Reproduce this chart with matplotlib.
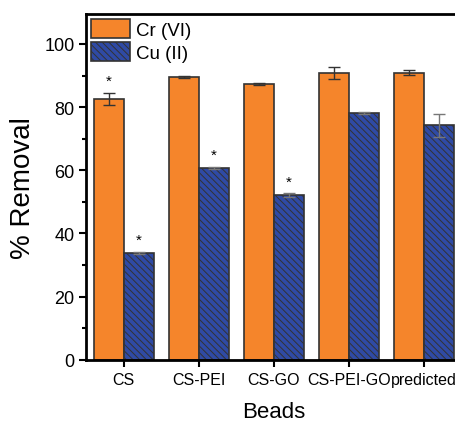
import numpy as np
import matplotlib.pyplot as plt

beads = ['CS', 'CS-PEI', 'CS-GO', 'CS-PEI-GO', 'predicted']
cr_vals = [82.7, 89.4, 87.3, 90.8, 90.9]
cr_err = [1.9, 0.3, 0.3, 1.9, 0.8]
cu_vals = [33.8, 60.8, 52.2, 78.1, 74.2]
cu_err = [0.4, 0.3, 0.6, 0.3, 3.7]
cr_star = [True, False, False, False, False]
cu_star = [True, True, True, False, False]

plt.rcParams['font.family'] = ['Liberation Sans', 'DejaVu Sans']
plt.rcParams['hatch.color'] = '#1c2660'
plt.rcParams['hatch.linewidth'] = 0.7

fig = plt.figure(figsize=(4.56, 4.27), dpi=100)
ax = fig.add_axes([0.189, 0.155, 0.822, 0.81])

x = np.arange(len(beads))
w = 0.4
ax.bar(x - w / 2, cr_vals, w, color='#f5852b', edgecolor='#333333', linewidth=1.2,
       yerr=cr_err, capsize=4, error_kw=dict(ecolor='#333333', elinewidth=1, capthick=1),
       label='Cr (VI)')
ax.bar(x + w / 2, cu_vals, w, color='#2f4aa5', edgecolor='#333333', linewidth=1.2,
       hatch='\\' * 5, yerr=cu_err, capsize=4,
       error_kw=dict(ecolor='#777777', elinewidth=1, capthick=1), label='Cu (II)')

# significance stars
for i in range(len(beads)):
    if cr_star[i]:
        ax.text(x[i] - w / 2, cr_vals[i] + cr_err[i] + 1.5, '*', ha='center', va='bottom', fontsize=11)
    if cu_star[i]:
        ax.text(x[i] + w / 2, cu_vals[i] + cu_err[i] + 1.5, '*', ha='center', va='bottom', fontsize=11)

ax.set_xlim(-0.5, 4.5)
ax.set_ylim(0, 109.5)
ax.set_xticks(x)
ax.set_xticklabels(beads, fontsize=11.5)
ax.set_yticks([0, 20, 40, 60, 80, 100])
ax.set_yticks(np.arange(10, 110, 20), minor=True)
ax.tick_params(axis='y', labelsize=13, width=1.5, length=5, direction='out')
ax.tick_params(axis='y', which='minor', width=1.5, length=3)
ax.tick_params(axis='x', width=1.5, length=5, direction='out')
for s in ax.spines.values():
    s.set_linewidth(2)

ax.set_ylabel('% Removal', fontsize=20, labelpad=6)
ax.set_xlabel('Beads', fontsize=16, labelpad=10)

ax.legend(loc='upper left', fontsize=13.5, frameon=False, handlelength=2.1, handleheight=1.25,
          borderaxespad=0.1, borderpad=0.15, handletextpad=0.3, labelspacing=0.15)

plt.savefig('out.png', dpi=100)
